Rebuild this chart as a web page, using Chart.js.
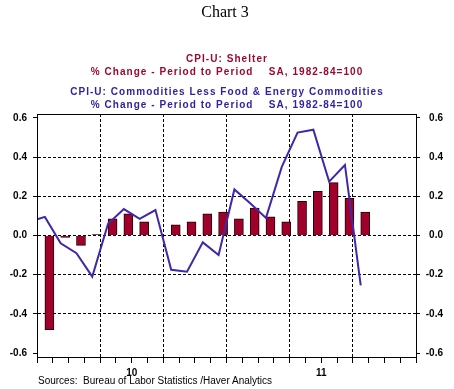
<!DOCTYPE html>
<html>
<head>
<meta charset="utf-8">
<script src="https://cdn.jsdelivr.net/npm/chart.js@4/dist/chart.umd.min.js"></script>
<style>
  body { margin: 0; background: #fff; }
  #wrap { position: relative; width: 454px; height: 389px; font-family: 'Liberation Sans', Arial, sans-serif; }
  #chart { position: absolute; left: 0; top: 0; }
  .t { position: absolute; left: 0; width: 454px; text-align: center; white-space: pre; }
  .title { top: 2px; font-family: 'Liberation Serif', 'Times New Roman', serif; font-size: 16px; line-height: 20px; left: -2px; }
  .sub { font-size: 10px; font-weight: bold; letter-spacing: 1.05px; line-height: 12px; }
  .red { color: #9B0A2E; }
  .blue { color: #3322A0; }
  .src { position: absolute; left: 38px; top: 375px; font-size: 10px; line-height: 12px; color: #000; white-space: pre; }
</style>
</head>
<body>
<div id="wrap">
  <canvas id="chart" width="454" height="389"></canvas>
  <div class="t title">Chart 3</div>
  <div class="t sub red" style="top:53px">CPI-U: Shelter</div>
  <div class="t sub red" style="top:66px">% Change - Period to Period    SA, 1982-84=100</div>
  <div class="t sub blue" style="top:86px">CPI-U: Commodities Less Food &amp; Energy Commodities</div>
  <div class="t sub blue" style="top:99px">% Change - Period to Period    SA, 1982-84=100</div>
  <div class="src">Sources:  Bureau of Labor Statistics /Haver Analytics</div>
</div>
<script>
// months shown on the axis, Jan 2010 .. Dec 2011
const months = [
  'Jan-10', 'Feb-10', 'Mar-10', 'Apr-10', 'May-10', 'Jun-10',
  'Jul-10', 'Aug-10', 'Sep-10', 'Oct-10', 'Nov-10', 'Dec-10',
  'Jan-11', 'Feb-11', 'Mar-11', 'Apr-11', 'May-11', 'Jun-11',
  'Jul-11', 'Aug-11', 'Sep-11', 'Oct-11', 'Nov-11', 'Dec-11'
];
// CPI-U: Shelter, % change, Jan 2010 .. Sep 2011
const shelter = [
  -0.48, -0.01, -0.05, 0.005, 0.085, 0.11, 0.07, 0.0, 0.055, 0.07, 0.11,
  0.12, 0.085, 0.14, 0.095, 0.07, 0.175, 0.225, 0.27, 0.19, 0.12
];
// CPI-U: core commodities, % change, Dec 2009 .. Sep 2011
const coreGoods = [
  0.07, 0.095, -0.04, -0.09, -0.21, 0.06, 0.135, 0.085, 0.13, -0.175, -0.185,
  -0.035, -0.1, 0.235, 0.165, 0.09, 0.35, 0.525, 0.54, 0.275, 0.36, -0.255
];
const yTicks = [-0.6, -0.4, -0.2, 0, 0.2, 0.4, 0.6];
const yearLabels = ['10', '11'];

const red = '#A0002A';
const blue = '#4028A8';
const tickFont = { family: "'Liberation Sans', Arial, sans-serif", size: 10, weight: 'bold' };

const frame = {
  id: 'frame',
  afterDraw(chart) {
    const { ctx, chartArea: a } = chart;
    ctx.save();
    ctx.strokeStyle = '#000';
    ctx.lineWidth = 1;
    ctx.strokeRect(Math.round(a.left) + 0.5, Math.round(a.top) + 0.5,
      Math.round(a.right - a.left), Math.round(a.bottom - a.top));
    ctx.restore();
  }
};

function setTicks(scale) {
  scale.ticks = yTicks.map((v) => ({ value: v }));
}

new Chart(document.getElementById('chart'), {
  type: 'bar',
  data: {
    labels: months,
    datasets: [
      {
        type: 'line',
        label: 'CPI-U: Commodities Less Food & Energy Commodities',
        data: coreGoods.map((v, i) => ({ x: i - 0.5, y: v })),
        xAxisID: 'x2',
        yAxisID: 'y',
        borderColor: blue,
        borderWidth: 2,
        pointRadius: 0,
        tension: 0,
        order: 0,
      },
      {
        label: 'CPI-U: Shelter',
        data: shelter,
        xAxisID: 'x',
        yAxisID: 'y',
        backgroundColor: red,
        borderColor: '#200000',
        borderWidth: 1,
        barThickness: 9,
        order: 1,
      },
    ],
  },
  options: {
    responsive: false,
    animation: false,
    layout: { padding: { top: 114, left: 0, right: 11, bottom: 0 } },
    plugins: { legend: { display: false }, tooltip: { enabled: false } },
    scales: {
      x: { display: false, offset: true },
      x2: {
        type: 'linear',
        position: 'bottom',
        min: 0,
        max: 24,
        offset: false,
        afterFit: (s) => { s.height = 32; },
        grid: {
          offset: false,
          color: (c) => (c.tick && c.tick.value % 4 === 0 && c.tick.value > 0 && c.tick.value < 24) ? '#000' : 'rgba(0,0,0,0)',
          tickColor: '#000',
          tickLength: 6,
          lineWidth: 1,
        },
        border: { display: true, color: '#000', dash: [3, 2] },
        ticks: {
          stepSize: 1,
          autoSkip: false,
          maxRotation: 0,
          padding: 4,
          color: '#000',
          font: tickFont,
          callback: (v) => (v === 6 ? yearLabels[0] : v === 18 ? yearLabels[1] : ''),
        },
      },
      y: {
        position: 'left',
        min: -0.62,
        max: 0.62,
        afterBuildTicks: setTicks,
        afterFit: (s) => { s.width = 37; },
        grid: {
          color: (c) => (c.tick && Math.abs(c.tick.value) > 0.5) ? 'rgba(0,0,0,0)' : '#000',
          tickColor: '#000',
          tickLength: 4,
        },
        border: { display: true, color: '#000', dash: [3, 2] },
        ticks: { padding: 6, color: '#000', font: tickFont, callback: (v) => Number(v).toFixed(1) },
      },
      y1: {
        position: 'right',
        min: -0.62,
        max: 0.62,
        afterBuildTicks: setTicks,
        afterFit: (s) => { s.width = 27; },
        grid: { drawOnChartArea: false, tickColor: '#000', tickLength: 4 },
        border: { display: true, color: '#000' },
        ticks: { crossAlign: 'far', color: '#000', font: tickFont, callback: (v) => Number(v).toFixed(1) },
      },
    },
  },
  plugins: [frame],
});
</script>
</body>
</html>
